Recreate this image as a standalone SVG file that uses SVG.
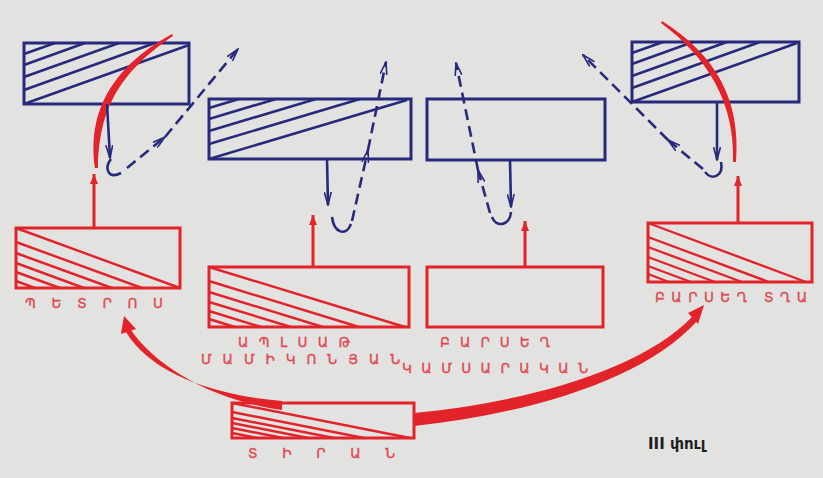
<svg xmlns="http://www.w3.org/2000/svg" width="823" height="478" viewBox="0 0 823 478">
<defs>
<style>
.bbox{fill:none;stroke:#272a7c;stroke-width:3}
.bh{stroke:#272a7c;stroke-width:2.6;fill:none}
.rbox{fill:none;stroke:#e3232a;stroke-width:3}
.rh{stroke:#e3232a;stroke-width:2.4;fill:none}
.rstub{stroke:#e3232a;stroke-width:3;fill:none}
.rfill{fill:#e3232a;stroke:none}
.bsolid{stroke:#272a7c;stroke-width:2.6;fill:none}
.bdash{stroke:#272a7c;stroke-width:2.6;fill:none;stroke-dasharray:11 6}
.lbl{font-family:"DejaVu Sans","Noto Sans",sans-serif;font-size:13.5px;fill:#e04850;stroke:#e04850;stroke-width:0.35}
.phase{font-family:"DejaVu Sans","Liberation Sans",sans-serif;font-size:15px;fill:#1e1e1e;font-weight:bold}
</style>
<marker id="ra" viewBox="0 0 10 8" refX="10" refY="4" markerWidth="10" markerHeight="9" markerUnits="userSpaceOnUse" orient="auto">
<path d="M0,0 L10,4 L0,8 Z" fill="#e3232a"/>
</marker>
<marker id="ba" viewBox="0 0 14 8" refX="13" refY="4" markerWidth="14" markerHeight="8" markerUnits="userSpaceOnUse" orient="auto">
<path d="M0,0.5 L13,4 L0,7.5" fill="none" stroke="#272a7c" stroke-width="1.6"/>
</marker>
</defs>
<rect x="0" y="0" width="823" height="478" fill="#e2e2e0"/>

<g id="blue-top-left">
<rect class="bbox" x="24" y="43" width="165" height="61"/>
<path class="bh" d="M24 104 L189 45 M24 90 L155 43 M24 77 L119 43 M24 65 L85 43 M24 54 L55 43"/>
</g>
<g id="blue-mid-left">
<rect class="bbox" x="209" y="99" width="202" height="60"/>
<path class="bh" d="M209 159 L407 100 M209 144 L360 99 M209 131 L316 99 M209 119 L276 99 M209 108 L239 99"/>
</g>
<g id="blue-mid-right">
<rect class="bbox" x="427" y="99" width="178" height="61"/>
</g>
<g id="blue-top-right">
<rect class="bbox" x="632" y="42" width="167" height="60"/>
<path class="bh" d="M632 102 L797 43 M632 88 L760 42 M632 76 L727 42 M632 64 L693 42 M632 53 L663 42"/>
</g>

<g id="petros">
<rect class="rbox" x="16" y="228" width="164" height="60"/>
<path class="rh" d="M16 228 L180 288 M16 242 L142 288 M16 253 L112 288 M16 263 L84 288 M16 272 L60 288 M16 281 L35 288"/>
<text class="lbl" x="25" y="308" textLength="138" lengthAdjust="spacing">ՊԵՏՐՈՍ</text>
</g>
<g id="aplsat">
<rect class="rbox" x="209" y="267" width="200" height="60"/>
<path class="rh" d="M209 267 L405 327 M209 281 L359 327 M209 292 L323 327 M209 302 L291 327 M209 311 L261 327 M209 319 L235 327"/>
<text class="lbl" x="238" y="347" textLength="112" lengthAdjust="spacing">ԱՊԼՍԱԹ</text>
<text class="lbl" x="201" y="364" textLength="199" lengthAdjust="spacing">ՄԱՄԻԿՈՆՅԱՆ</text>
</g>
<g id="barsegh">
<rect class="rbox" x="427" y="267" width="176" height="60"/>
<text class="lbl" x="440" y="347" textLength="110" lengthAdjust="spacing">ԲԱՐՍԵՂ</text>
<text class="lbl" x="402" y="373" textLength="186" lengthAdjust="spacing">ԿԱՄՍԱՐԱԿԱՆ</text>
</g>
<g id="barsegh-son">
<rect class="rbox" x="648" y="223" width="164" height="59"/>
<path class="rh" d="M648 223 L806 282 M648 237 L769 282 M648 247 L742 282 M648 257 L715 282 M648 266 L691 282 M648 274 L669 282"/>
<text class="lbl" x="655" y="302" textLength="152" lengthAdjust="spacing">ԲԱՐՍԵՂ ՏՂԱ</text>
</g>
<g id="tiran">
<rect class="rbox" x="232" y="403" width="182" height="35"/>
<path class="rh" d="M232 403 L410 438 M232 412 L364 438 M232 418 L334 438 M232 423 L308 438 M232 428 L283 438 M232 433 L257 438"/>
<text class="lbl" x="248" y="458" textLength="147" lengthAdjust="spacing">ՏԻՐԱՆ</text>
</g>

<g id="connectors">
<line class="rstub" x1="94" y1="228" x2="94" y2="174" marker-end="url(#ra)"/>
<line class="rstub" x1="313" y1="267" x2="313" y2="215" marker-end="url(#ra)"/>
<line class="rstub" x1="525" y1="267" x2="525" y2="221" marker-end="url(#ra)"/>
<line class="rstub" x1="738" y1="223" x2="738" y2="176" marker-end="url(#ra)"/>
<path class="rfill" d="M95 168 C88 118 106 70 172 34 L173 36 C112 77 99 118 98 168 Z"/>
<path class="rfill" d="M662 21 C716 55 741 100 736 162 L733 162 C735 103 708 58 661 23 Z"/>
<path class="rfill" d="M282 401 C210 395 150 372 126 332 L131 330 C157 368 215 401 282 410 Z"/>
<path class="rfill" d="M124 316 L121 334 L136 329 Z"/>
<path class="rfill" d="M414 413 C520 403 640 372 693 316 L698 320 C644 381 526 414 414 426 Z"/>
<path class="rfill" d="M704 305 L688 313 L698 324 Z"/>
<line class="bsolid" x1="107" y1="104" x2="110" y2="158" marker-end="url(#ba)"/>
<path class="bsolid" d="M111 159 C104 168 108 180 121 173"/>
<line class="bdash" x1="127" y1="168" x2="165" y2="137" marker-end="url(#ba)"/>
<line class="bdash" x1="165" y1="137" x2="238" y2="49" marker-end="url(#ba)"/>
<line class="bsolid" x1="327" y1="159" x2="328" y2="205" marker-end="url(#ba)"/>
<path class="bsolid" d="M332 217 C334 233 346 237 351 224"/>
<line class="bdash" x1="352" y1="221" x2="368" y2="150" marker-end="url(#ba)"/>
<line class="bdash" x1="368" y1="150" x2="386" y2="62" marker-end="url(#ba)"/>
<line class="bsolid" x1="510" y1="160" x2="511" y2="207" stroke-width="3.2" marker-end="url(#ba)"/>
<path class="bsolid" d="M511 212 C510 226 496 228 492 217"/>
<line class="bdash" x1="490" y1="213" x2="478" y2="170" marker-end="url(#ba)"/>
<line class="bdash" x1="478" y1="170" x2="456" y2="63" marker-end="url(#ba)"/>
<line class="bsolid" x1="717" y1="102" x2="717" y2="160" marker-end="url(#ba)"/>
<path class="bsolid" d="M721 162 C724 176 712 181 705 172"/>
<line class="bdash" x1="703" y1="169" x2="668" y2="140" marker-end="url(#ba)"/>
<line class="bdash" x1="668" y1="140" x2="583" y2="55" marker-end="url(#ba)"/>
</g>

<text class="phase" x="648" y="449">III փուլ</text>
</svg>
